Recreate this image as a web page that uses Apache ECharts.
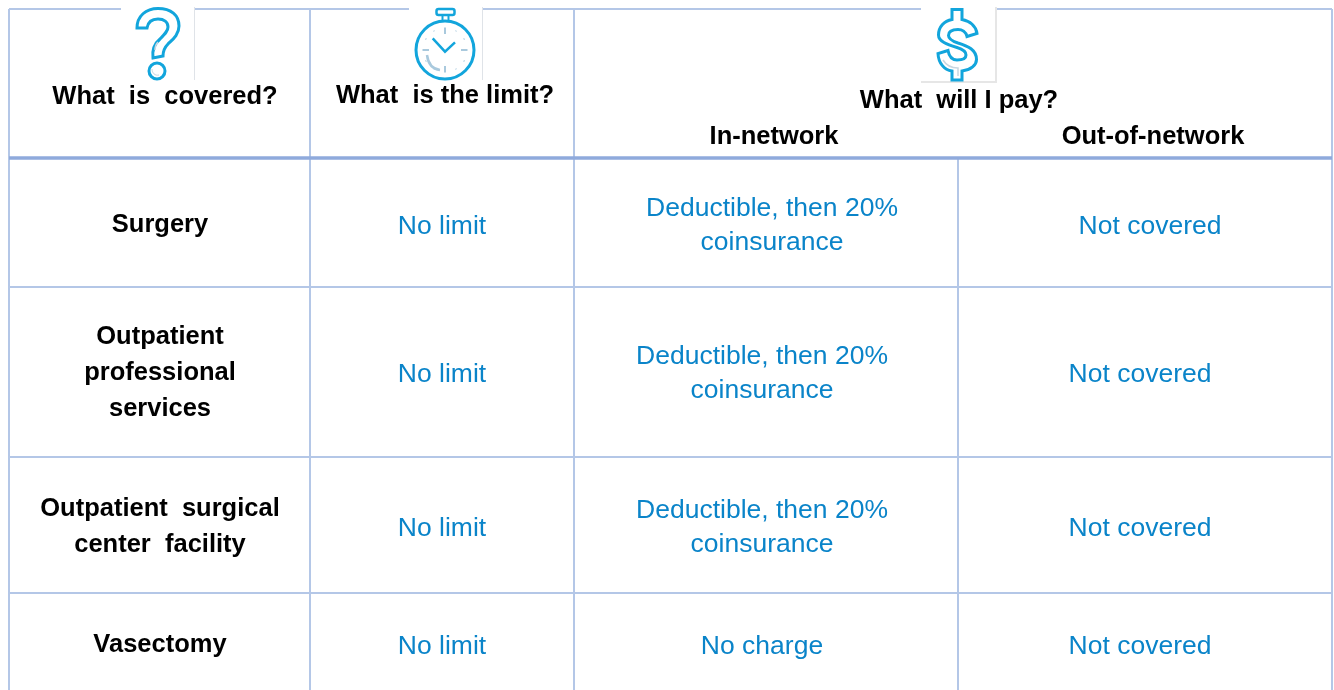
<!DOCTYPE html>
<html>
<head>
<meta charset="utf-8">
<style>
  html, body { margin: 0; padding: 0; background: #fff; }
  #main { width: 1334px; height: 690px; }
</style>
</head>
<body>
<div id="main"></div>
<script src="https://cdn.jsdelivr.net/npm/echarts@6/dist/echarts.min.js"></script>
<script>
// table content (double spaces are the wide word gaps of the original)
var headers = ['What  is  covered?', 'What  is the limit?', 'What  will I pay?', 'In-network', 'Out-of-network'];
var services = ['Surgery', 'Outpatient\nprofessional\nservices', 'Outpatient  surgical\ncenter  facility', 'Vasectomy'];
var limits = ['No limit', 'No limit', 'No limit', 'No limit'];
var inNetwork = ['Deductible, then 20%\ncoinsurance', 'Deductible, then 20%\ncoinsurance', 'Deductible, then 20%\ncoinsurance', 'No charge'];
var outNetwork = ['Not covered', 'Not covered', 'Not covered', 'Not covered'];

// layout in page pixels, the axes below are 1:1 with the canvas
var FONT = '"Liberation Sans", Arial, sans-serif';
var THIN = '#b4c7e7', THICK = '#8faadc', BLUE = '#0a84c9', ICON = '#12a5dc', PALE = '#a9c9dd';
var rowMid = [226, 374, 528, 646];
var colX = [160, 442, 762, 1140];
var firstRowShift = 10; // first row of the two pay columns sits a bit to the right

var cells = [];
headers.forEach(function (t, i) {
  var pos = [[165, 97], [445, 96], [959, 101], [774, 137], [1153, 137]][i];
  cells.push({ value: pos, text: t, bold: true, lh: 36 });
});
[services, limits, inNetwork, outNetwork].forEach(function (col, c) {
  col.forEach(function (t, r) {
    var x = colX[c] + (c >= 2 && r === 0 ? firstRowShift : 0);
    var y = rowMid[r] + (c === 0 ? -1 : 0) + (c > 0 && t.indexOf('\n') < 0 ? 1 : 0);
    cells.push({ value: [x, y], text: t, bold: c === 0, lh: c === 0 ? 36 : 34 });
  });
});

// [x1, y1, x2, y2, width, color]
var rules = [
  [9, 9, 121, 9, 2, THIN], [194, 9, 409, 9, 2, THIN], [482, 9, 921, 9, 2, THIN], [996, 9, 1332, 9, 2, THIN],
  [9, 9, 9, 690, 2, THIN], [310, 9, 310, 690, 2, THIN], [574, 9, 574, 690, 2, THIN],
  [958, 158, 958, 690, 2, THIN], [1332, 9, 1332, 690, 2, THIN],
  [9, 287, 1332, 287, 2, THIN], [9, 457, 1332, 457, 2, THIN], [9, 593, 1332, 593, 2, THIN],
  [9, 158, 1332, 158, 3.5, THICK],
  [194.5, 7, 194.5, 80, 1, '#dfe3e8'], [482.5, 7, 482.5, 80, 1, '#dfe3e8'],
  [996, 7, 996, 83, 2, '#e6e6e6'], [921, 82, 997, 82, 2, '#e6e6e6']
];

function stroked(path, color, width) {
  return { type: 'path', shape: { pathData: path }, style: { fill: null, stroke: color, lineWidth: width } };
}
function outlined(path) {
  return { type: 'path', shape: { pathData: path }, style: { fill: '#fff', stroke: ICON, lineWidth: 3 } };
}

var questionPath = 'M137 28 C137 16 146 8.5 158 8.5 C171 8.5 179 15 179 26 C179 35 172 40 168 44 C164 48 163 51 163 56 L153 58 C152 50 154 44 160 39 C165 34 168 31 168 27 C168 22 164 19 158 19 C152 19 148 22 147 28 Z';
var dollarPath = 'M952 9.5 L962 9.5 L962 19.5 C970 21 976 26 977 33.5 L967 36.5 C966 32 962 29.5 958 29.5 C952 29.5 948.5 31.5 948.5 35.5 C948.5 39 952 41 958 43 C968 46 976.5 50 976.5 59.5 C976.5 65 971 70 962 71 L962 80 L952 80 L952 71 C944 70 938.5 63 938 53.5 L948 50.5 C949 56 952 60 957 60 C962 60 966 58.5 966 55 C966 51 962 49 957 47.5 C947 44.5 938.5 41.5 938.5 35 C938.5 27 944 21 952 19.5 Z';

var clockX = 445, clockY = 50;
var clockTicks = [];
for (var a = 0; a < 12; a++) {
  var ang = a * Math.PI / 6, major = a % 3 === 0;
  var r1 = major ? 16 : 21.5, r2 = 22.5;
  clockTicks.push({
    type: 'line',
    shape: { x1: clockX + r1 * Math.sin(ang), y1: clockY - r1 * Math.cos(ang), x2: clockX + r2 * Math.sin(ang), y2: clockY - r2 * Math.cos(ang) },
    style: { stroke: PALE, lineWidth: major ? 2 : 1.5 }
  });
}

var icons = [].concat(
  [
    outlined(questionPath),
    stroked('M155 50 C155 46 156 44 158 42', '#c9d6e0', 1.5),
    { type: 'circle', shape: { cx: 157, cy: 71, r: 8 }, style: { fill: '#fff', stroke: ICON, lineWidth: 3 } },
    stroked('M152 69 C152 73 155 76 159 75', '#c9d6e0', 1),
    outlined(dollarPath),
    stroked('M943 60 C946 65 952 68 958 68 L958 76', '#c9d6e0', 1.5)
  ],
  clockTicks,
  [
    { type: 'circle', shape: { cx: clockX, cy: clockY, r: 29 }, style: { fill: null, stroke: ICON, lineWidth: 3 } },
    { type: 'rect', shape: { x: 436.5, y: 9, width: 18, height: 6, r: 2 }, style: { fill: '#fff', stroke: ICON, lineWidth: 2.5 } },
    stroked('M442.5 16 L442.5 21 M448.5 16 L448.5 21', ICON, 2),
    stroked('M432.7 38.3 L445 51.7 L455 42.3', ICON, 2.5),
    stroked('M427 55 C428 63 432 69 440 70', PALE, 2.5)
  ]
);

var chart = echarts.init(document.getElementById('main'), null, { renderer: 'canvas' });
chart.setOption({
  animation: false,
  backgroundColor: '#fff',
  grid: { left: 0, right: 0, top: 0, bottom: 0 },
  xAxis: { type: 'value', min: 0, max: 1334, show: false },
  yAxis: { type: 'value', min: 0, max: 690, inverse: true, show: false },
  series: [
    {
      type: 'custom',
      coordinateSystem: 'cartesian2d',
      silent: true,
      clip: false,
      data: rules,
      renderItem: function (params, api) {
        var a = api.coord([api.value(0), api.value(1)]);
        var b = api.coord([api.value(2), api.value(3)]);
        var r = rules[params.dataIndex];
        return { type: 'line', shape: { x1: a[0], y1: a[1], x2: b[0], y2: b[1] }, style: { stroke: r[5], lineWidth: r[4] } };
      }
    },
    {
      type: 'custom',
      coordinateSystem: 'cartesian2d',
      silent: true,
      clip: false,
      data: cells,
      renderItem: function (params, api) {
        var p = api.coord([api.value(0), api.value(1)]);
        var c = cells[params.dataIndex];
        return {
          type: 'text',
          x: p[0], y: p[1],
          style: {
            text: c.text, align: 'center', verticalAlign: 'middle', lineHeight: c.lh,
            fontFamily: FONT, fontSize: c.bold ? 25.5 : 26.5, fontWeight: c.bold ? 'bold' : 'normal',
            fill: c.bold ? '#000' : BLUE
          }
        };
      }
    },
    {
      type: 'custom',
      coordinateSystem: 'none',
      silent: true,
      clip: false,
      data: [0],
      renderItem: function () {
        return { type: 'group', children: icons };
      }
    }
  ]
});
</script>
</body>
</html>
